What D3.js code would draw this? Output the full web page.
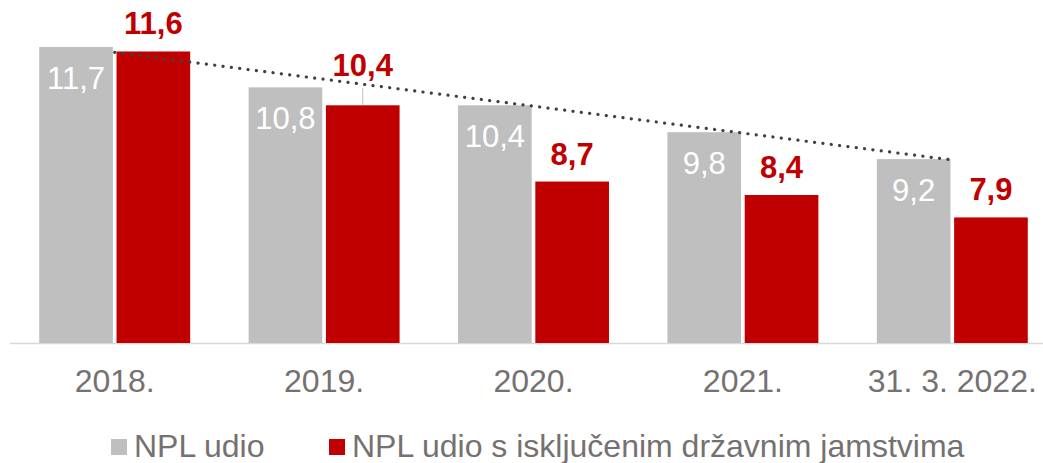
<!DOCTYPE html>
<html>
<head>
<meta charset="utf-8">
<script src="https://cdn.jsdelivr.net/npm/d3@7"></script>
<style>
  body { margin: 0; background: #fff; }
  svg { display: block; font-family: "Liberation Sans", Arial, sans-serif; }
</style>
</head>
<body>
<div id="chart"></div>
<script>
// categories and series values
const categories = ['2018.', '2019.', '2020.', '2021.', '31. 3. 2022.'];
const nplShare = [11.7, 10.8, 10.4, 9.8, 9.2];
const nplExclGuarantees = [11.6, 10.4, 8.7, 8.4, 7.9];
const seriesNames = ['NPL udio', 'NPL udio s isključenim državnim jamstvima'];

const width = 1043;
const height = 463;
const grey = '#bfbfbf';
const red = '#c00000';
const textGrey = '#767171';

const svg = d3.select('#chart').append('svg')
    .attr('width', width)
    .attr('height', height);

// group scale (plot runs a bit past the right edge, as in the original)
const x0 = d3.scaleBand()
    .domain(categories)
    .range([10, 1057])
    .paddingInner(0)
    .paddingOuter(0);

const x1 = d3.scaleBand()
    .domain(['grey', 'red'])
    .range([0, x0.bandwidth()])
    .paddingInner(0.047)
    .paddingOuter(0.378);

const y = d3.scaleLinear()
    .domain([5.1, 12])
    .range([343, 343 - 6.9 * 44.85]);

const rows = categories.map((c, i) => ({ cat: c, a: nplShare[i], b: nplExclGuarantees[i] }));

// baseline
svg.append('line')
    .attr('x1', 10).attr('x2', width)
    .attr('y1', y(5.1) + 0.5).attr('y2', y(5.1) + 0.5)
    .attr('stroke', '#d9d9d9')
    .attr('stroke-width', 1.5);

const g = svg.selectAll('.group')
    .data(rows)
    .enter().append('g')
    .attr('class', 'group')
    .attr('transform', d => 'translate(' + x0(d.cat) + ',0)');

// grey bars
g.append('rect')
    .attr('x', x1('grey'))
    .attr('y', d => y(d.a))
    .attr('width', x1.bandwidth())
    .attr('height', d => y(5.1) - y(d.a))
    .attr('fill', grey);

// red bars
g.append('rect')
    .attr('x', x1('red'))
    .attr('y', d => y(d.b))
    .attr('width', x1.bandwidth())
    .attr('height', d => y(5.1) - y(d.b))
    .attr('fill', red);

const fmt = v => d3.format('.1f')(v).replace('.', ',');

// grey labels inside bars
g.append('text')
    .attr('x', x1('grey') + x1.bandwidth() / 2)
    .attr('y', d => y(d.a) + 42)
    .attr('text-anchor', 'middle')
    .attr('font-size', 31)
    .attr('fill', '#fff')
    .text(d => fmt(d.a));

// red labels above bars (2019 one lifted with a leader line)
const lift = (d, i) => i === 1 ? 29 : 17;
g.filter((d, i) => i === 1).append('line')
    .attr('x1', x1('red') + x1.bandwidth() / 2)
    .attr('x2', x1('red') + x1.bandwidth() / 2)
    .attr('y1', d => y(d.b) - 17)
    .attr('y2', d => y(d.b))
    .attr('stroke', '#bfbfbf')
    .attr('stroke-width', 1);

g.append('text')
    .attr('x', x1('red') + x1.bandwidth() / 2)
    .attr('y', (d, i) => y(d.b) - lift(d, i))
    .attr('text-anchor', 'middle')
    .attr('font-size', 31)
    .attr('font-weight', 'bold')
    .attr('fill', red)
    .text(d => fmt(d.b));

// linear trend line of the grey series
const n = nplShare.length;
const mx = d3.mean(d3.range(n));
const my = d3.mean(nplShare);
const slope = d3.sum(d3.range(n), i => (i - mx) * (nplShare[i] - my)) /
    d3.sum(d3.range(n), i => (i - mx) * (i - mx));
const trend = i => my + slope * (i - mx);
const mid = c => x0(c) + x0.bandwidth() / 2;

svg.append('line')
    .attr('x1', mid(categories[0]))
    .attr('y1', y(trend(0)))
    .attr('x2', mid(categories[n - 1]))
    .attr('y2', y(trend(n - 1)))
    .attr('stroke', '#404040')
    .attr('stroke-width', 3.2)
    .attr('stroke-linecap', 'round')
    .attr('stroke-dasharray', '0.1 8.3');

// x axis labels
const xAxis = svg.append('g')
    .attr('transform', 'translate(0,' + y(5.1) + ')')
    .call(d3.axisBottom(x0).tickSize(0).tickPadding(0));
xAxis.select('.domain').remove();
xAxis.selectAll('text')
    .attr('dy', null)
    .attr('y', 49)
    .attr('font-size', 32)
    .attr('font-family', '"Liberation Sans", Arial, sans-serif')
    .attr('fill', textGrey);

// legend
const legendX = [111, 329];
const legend = svg.selectAll('.legend')
    .data(seriesNames)
    .enter().append('g')
    .attr('class', 'legend')
    .attr('transform', (d, i) => 'translate(' + legendX[i] + ',0)');

legend.append('rect')
    .attr('x', 0).attr('y', 439)
    .attr('width', 16).attr('height', 16)
    .attr('fill', (d, i) => i === 0 ? grey : red);

legend.append('text')
    .attr('x', 23)
    .attr('y', 457)
    .attr('font-size', 32)
    .attr('fill', textGrey)
    .text(d => d);
</script>
</body>
</html>
